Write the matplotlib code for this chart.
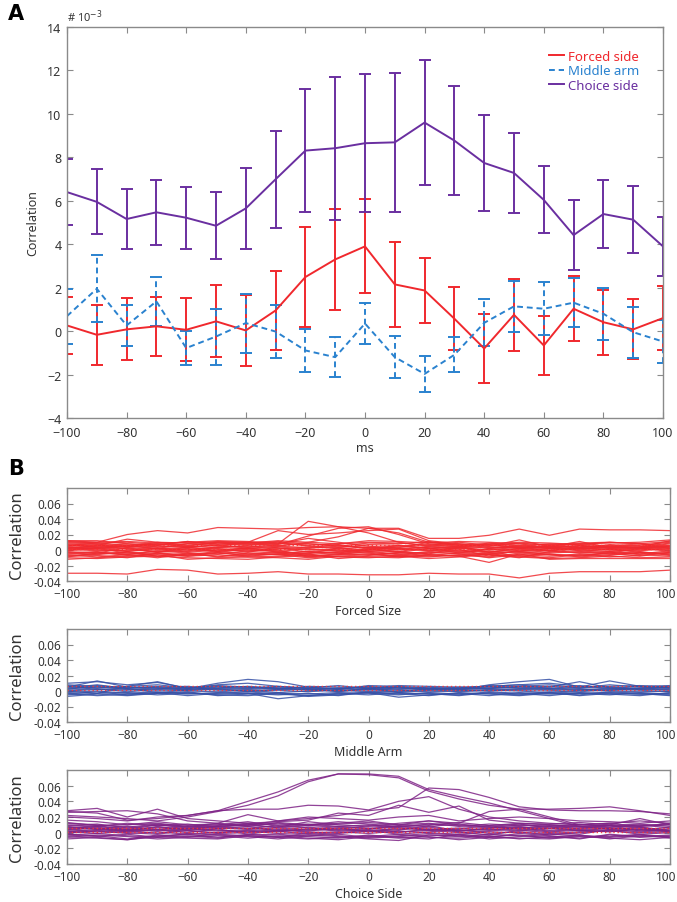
import numpy as np
import matplotlib
matplotlib.use("Agg")
import matplotlib.pyplot as plt
from matplotlib.transforms import ScaledTranslation

plt.rcParams['font.family'] = ['Noto Sans', 'DejaVu Sans']

# ---------------- data ----------------
lags = [-100, -90, -80, -70, -60, -50, -40, -30, -20, -10, 0, 10, 20, 30, 40, 50, 60, 70, 80, 90, 100]

# Panel A (x 10^-3)
forced_mean = [0.26, -0.17, 0.08, 0.22, 0.06, 0.45, 0.03, 0.95, 2.49, 3.3, 3.9, 2.15, 1.87, 0.57, -0.8, 0.75, -0.66, 1.03, 0.41, 0.08, 0.6]
forced_err = [1.32, 1.37, 1.43, 1.36, 1.45, 1.66, 1.64, 1.84, 2.32, 2.32, 2.16, 1.96, 1.49, 1.46, 1.6, 1.67, 1.37, 1.5, 1.5, 1.38, 1.47]
middle_mean = [0.69, 1.95, 0.26, 1.37, -0.78, -0.25, 0.37, -0.02, -0.89, -1.2, 0.35, -1.2, -1.97, -1.09, 0.38, 1.14, 1.03, 1.31, 0.8, -0.05, -0.48]
middle_err = [1.27, 1.54, 0.93, 1.13, 0.78, 1.29, 1.36, 1.21, 0.99, 0.92, 0.96, 0.96, 0.84, 0.81, 1.08, 1.18, 1.22, 1.14, 1.2, 1.17, 1.0]
choice_mean = [6.4, 5.95, 5.16, 5.47, 5.22, 4.85, 5.65, 6.99, 8.31, 8.42, 8.65, 8.69, 9.6, 8.77, 7.74, 7.28, 6.04, 4.42, 5.39, 5.13, 3.9]
choice_err = [1.52, 1.5, 1.4, 1.5, 1.42, 1.55, 1.87, 2.23, 2.83, 3.3, 3.17, 3.21, 2.87, 2.5, 2.23, 1.86, 1.54, 1.61, 1.57, 1.53, 1.35]

# Panel B individual traces (x 10^-3)
forced_traces = [
    [-30, -30, -31, -25, -26, -31, -30, -28, -31, -31, -32, -32, -30, -31, -31, -36, -30, -28, -28, -28, -26],
    [10, 10, 20, 25, 22, 29, 28, 27, 29, 30, 28, 28, 15, 15, 19, 27, 19, 27, 26, 26, 25],
    [12, 12, 8, 6, 8, 10, 10, 8, 37, 30, 22, 10, 5, 3, 0, 4, 2, 6, 3, 4, 12],
    [5, 6, 14, 10, 9, 11, 10, 25, 20, 22, 25, 27, 12, 8, 5, 8, 3, 5, 2, 3, 8],
    [3, 2, 5, 6, 11, 8, 9, 7, 18, 28, 30, 20, 8, 5, -3, 2, 0, 2, 0, 3, 5],
    [8, 6, 4, 8, 4, 6, 8, 5, 10, 17, 28, 22, 10, 6, 2, 5, 4, 8, 5, 2, 4],
    [-12, -10, -8, -6, -12, -10, -9, -10, -12, -8, -9, -10, -6, -8, -16, -5, -12, -11, -11, -11, -11],
    [0, 3, -2, 2, 0, 4, 5, 3, -3, -4, 2, -2, 4, 1, -8, 0, -3, 2, 1, 0, 3],
    [6, 4, 2, -3, -1, 3, 2, 0, -8, -5, 0, 3, 10, 6, 5, 13, 4, 11, 3, 4, 9],
    [-5, -3, -5, -4, -6, -2, -5, -6, -10, -8, -6, -4, -3, -5, -10, -6, -8, -5, -7, -3, -6],
    [2, 5, 8, 4, 5, 3, 6, 8, 15, 10, 5, 2, 0, 3, 4, 2, 6, 3, 5, 8, 2],
    [-3, -6, -2, -8, -4, -5, -2, -4, -2, 0, -3, -6, -2, 0, -4, -2, 0, -4, -2, -5, -1],
    [4, 1, 3, 5, 3, 1, 0, -2, 2, 5, 3, 0, 5, 8, 3, 6, 2, 0, 4, 2, 6],
    [9, 8, 4, 10, 6, 9, 7, 10, 5, 3, 7, 6, 2, 4, 7, 3, 5, 3, 7, 5, 4],
    [-8, -7, -10, -4, -8, -6, -9, -8, -5, -11, -8, -7, -9, -6, -9, -4, -6, -8, -3, -6, -8],
    [1, -1, 0, 2, -3, 0, -1, 1, 4, 2, -2, 1, 0, -3, 1, -1, 2, 0, -2, 1, 0],
    [7, 3, 6, 2, 8, 5, 4, 6, 8, 6, 3, 5, 7, 4, 9, 5, 8, 6, 4, 6, 10],
    [-1, 2, -4, -2, 2, -3, 1, -1, -6, -3, 1, -3, 2, -1, -2, -3, -4, -2, 1, -3, -4],
    [11, 9, 6, 8, 5, 10, 9, 12, 10, 8, 10, 9, 6, 10, 6, 9, 6, 8, 9, 10, 13],
    [-6, -9, -6, -10, -5, -8, -7, -5, -8, -6, -5, -9, -7, -4, -6, -8, -10, -6, -9, -7, -3],
    [3, 0, -1, 0, 1, -1, 3, 2, 0, 1, 4, 2, -1, 2, 0, 1, -1, 3, 0, -1, 2],
    [-9, -4, -6, -1, -4, -9, -4, -6, -4, -2, -4, -8, -4, -2, -6, -10, -2, -3, -5, -2, -7],
    [5, 7, 1, 3, -2, 2, -3, 4, 1, -1, 0, 4, 3, -4, 2, 4, -1, 5, 2, 3, -2],
    [-2, -4, 3, -3, 4, -2, 3, -3, -5, 3, -1, -2, -5, 3, -3, 2, 3, -1, -4, 2, 1],
    [12, 10, 11, 9, 10, 12, 11, 9, 6, 8, 12, 11, 9, 11, 10, 8, 7, 9, 10, 8, 11],
    [-10, -11, -9, -8, -10, -11, -12, -9, -7, -9, -10, -8, -11, -9, -6, -9, -11, -10, -8, -10, -9],
    [6, 9, 10, 7, 11, 6, 9, 11, 8, 5, 9, 8, 11, 7, 8, 10, 9, 7, 10, 8, 5],
    [-4, -2, -7, -5, -8, -4, -6, -3, -9, -6, -2, -5, -8, -7, -4, -7, -5, -9, -6, -4, -5],
    [2, 4, 6, 1, 3, 7, 2, 5, 3, 7, 1, 6, 2, 5, 7, 3, 4, 1, 6, 3, 4],
    [-7, -5, -3, -8, -7, -3, -8, -5, -2, -4, -7, -3, -6, -8, -5, -2, -6, -7, -4, -8, -3],
]

middle_traces = [
    [10, 12, 8, 11, 4, 6, 5, 3, 2, 3, 5, 4, 3, 5, 6, 8, 10, 6, 5, 3, 2],
    [5, 13, 5, 4, 3, 10, 15, 12, 5, 3, 6, 2, 3, 1, 8, 12, 15, 5, 13, 6, 7],
    [0, -3, 6, 12, 3, 8, 10, 6, 3, -1, 4, -2, 1, 2, 4, 6, 5, 12, 4, 2, 5],
    [-5, -3, -2, -5, -3, -4, -3, -10, -6, -4, -2, -8, -5, -3, -6, -2, -4, -3, -5, -2, -4],
    [3, 5, 2, 4, 1, 2, 0, 1, -1, 2, 3, 1, -1, 0, 2, 3, 4, 2, 1, 3, 1],
    [-2, 0, -3, -1, -4, -2, -3, -5, -3, -6, -1, -4, -3, -6, -2, -4, -1, -3, -2, -4, -3],
    [8, 6, 4, 5, 6, 3, 4, 5, 4, 2, 7, 6, 4, 3, 5, 4, 6, 4, 8, 5, 4],
    [-7, -4, -6, -3, -2, -5, -6, -3, -4, -2, -3, -5, -2, -4, -3, -5, -2, -6, -3, -4, -5],
    [1, 3, -1, 2, 0, -1, 1, -2, 0, 1, -1, 0, 2, -1, 1, 0, -2, 1, 0, -1, 0],
    [6, 2, 1, 3, 5, 1, 2, 3, 2, 4, 1, 3, 5, 2, 3, 1, 2, 3, 1, 4, 6],
    [-3, -6, -4, -2, -6, -3, -1, -4, -6, -3, -5, -2, -4, -5, -1, -3, -6, -2, -4, -6, -2],
    [4, 8, 3, 1, 2, 4, 6, 4, 1, 0, 2, 5, 2, 3, 7, 4, 3, 1, 4, 2, 3],
    [2, 7, 4, 6, 2, 5, 3, 6, 4, 7, 3, 5, 1, 4, 6, 8, 3, 7, 3, 6, 4],
    [-4, -1, -5, -3, -1, -6, -4, -2, -7, -5, -2, -3, -6, -2, -4, -6, -3, -5, -1, -3, -6],
    [0, 2, 3, -2, 1, 3, -1, 2, 3, 0, 2, -1, 3, 1, 0, 2, 1, -1, 2, 1, -1],
    [7, 4, 6, 8, 4, 7, 5, 2, 6, 5, 4, 7, 6, 5, 3, 6, 8, 4, 6, 7, 5],
]

choice_traces = [
    [22, 20, 18, 15, 20, 27, 35, 47, 65, 75, 75, 72, 55, 46, 38, 28, 18, 8, 5, 4, 2],
    [27, 25, 16, 18, 22, 28, 40, 52, 67, 75, 74, 70, 53, 43, 35, 30, 20, 10, 9, 7, 3],
    [5, 8, 4, 10, 6, 8, 10, 15, 18, 22, 28, 32, 57, 55, 45, 33, 29, 28, 28, 27, 24],
    [20, 18, 15, 20, 22, 28, 30, 30, 35, 34, 29, 40, 46, 30, 20, 15, 12, 10, 12, 15, 12],
    [28, 31, 20, 30, 18, 15, 12, 14, 16, 25, 22, 35, 26, 34, 16, 12, 10, 8, 10, 18, 10],
    [16, 14, 10, 12, 8, 10, 14, 8, 10, 12, 15, 10, 15, 12, 27, 30, 30, 31, 33, 28, 22],
    [26, 27, 28, 24, 15, 12, 23, 15, 20, 18, 16, 20, 22, 15, 18, 20, 18, 15, 14, 12, 15],
    [8, 5, 3, 6, 4, 7, 5, 9, 6, 3, 5, 8, 4, 6, 3, 7, 5, 8, 4, 6, 3],
    [-2, -4, -8, -3, -5, -2, -4, -6, -3, -5, -8, -10, -3, -5, -2, -4, -6, -3, -8, -4, -5],
    [3, 6, 1, 4, 2, 0, 3, 1, 5, 2, 4, 1, 3, 0, 2, 5, 1, 3, 2, 4, 1],
    [-5, -7, -9, -4, -2, -6, -3, -2, -5, -7, -3, -6, -8, -2, -5, -3, -7, -4, -5, -2, -6],
    [10, 8, 12, 9, 11, 7, 10, 12, 9, 11, 13, 10, 12, 8, 11, 9, 10, 7, 9, 11, 8],
    [0, 2, -1, 1, -2, 0, 2, -1, 0, 1, -1, 2, 0, -2, 1, 0, -1, 1, 2, 0, 1],
    [6, 9, 4, 7, 5, 8, 11, 6, 9, 7, 5, 9, 8, 11, 7, 6, 9, 5, 7, 10, 6],
    [-3, -1, -4, -6, -1, -3, -5, -8, -4, -2, -6, -4, -1, -3, -8, -5, -2, -4, -6, -3, -7],
    [4, 1, 5, 2, 6, 3, 1, 4, 2, 6, 1, 4, 7, 3, 5, 2, 6, 3, 1, 5, 2],
    [-1, 3, 0, -2, 3, -1, 0, 2, -2, 0, 3, -2, 1, 4, -1, 1, -3, 0, 3, -2, 0],
    [12, 10, 7, 11, 8, 12, 9, 7, 14, 10, 8, 12, 15, 10, 8, 11, 6, 10, 12, 8, 10],
    [-6, -3, -5, -8, -6, -4, -7, -4, -7, -9, -5, -2, -6, -7, -4, -8, -5, -7, -3, -6, -4],
    [2, -1, 2, 4, 0, 5, -2, 3, 1, -1, 2, 0, 5, 1, -3, 3, 0, -2, 4, 1, 3],
    [7, 4, 8, 3, 9, 5, 6, 3, 7, 4, 9, 6, 3, 5, 9, 4, 8, 2, 6, 3, 7],
    [9, 11, 6, 10, 7, 9, 12, 10, 11, 8, 10, 7, 11, 9, 6, 10, 8, 11, 7, 9, 11],
    [-8, -6, -9, -5, -7, -8, -4, -6, -8, -6, -4, -7, -5, -9, -6, -7, -8, -5, -7, -9, -6],
    [4, 7, 2, 8, 3, 5, 8, 2, 4, 8, 6, 3, 9, 2, 6, 8, 3, 6, 9, 2, 5],
    [-3, -5, -2, -6, -4, -7, -2, -5, -1, -4, -7, -5, -3, -4, -6, -1, -4, -8, -2, -5, -3],
    [1, 4, 3, -1, 5, 2, 4, 6, 3, 5, 2, 6, 4, 2, 4, 6, 2, 4, 5, 7, 2],
    [13, 9, 10, 14, 10, 11, 8, 13, 10, 14, 11, 8, 10, 13, 9, 12, 11, 13, 10, 8, 12],
]

threshold_levels = [6.5, 1.0]  # x 10^-3, dotted reference lines

legend_labels = ['Forced side', 'Middle arm', 'Choice side']
b_xlabels = ['Forced Size', 'Middle Arm', 'Choice Side']

# ---------------- styles ----------------
RED = '#f0282d'
BLUE = '#2a82cf'
PURPLE = '#6a2fa0'
B_COLORS = ['#ef2a2f', '#3550a6', '#7e2386']
FRAME = '#8a8a8a'
TXT = '#333333'

fig = plt.figure(figsize=(6.77, 9.03), dpi=100)


def style_axes(ax, labelsize):
    for s in ax.spines.values():
        s.set_color(FRAME)
        s.set_linewidth(1.0)
    ax.tick_params(direction='in', top=True, right=True, length=4, width=0.8,
                   color=FRAME, labelsize=labelsize, labelcolor=TXT)
    ax.tick_params(axis='x', pad=6)
    ax.tick_params(axis='y', pad=4)


def nudge_last_xlabel(ax):
    fig.canvas.draw()
    labs = ax.get_xticklabels()
    labs[-1].set_transform(labs[-1].get_transform() +
                           ScaledTranslation(-4 / 100, 0, fig.dpi_scale_trans))


# ---------------- Panel A ----------------
axA = fig.add_axes([67 / 677, 1 - 419 / 903, 596 / 677, 391 / 903])
x = np.array(lags)

series = [
    (forced_mean, forced_err, RED, '-'),
    (middle_mean, middle_err, BLUE, '--'),
    (choice_mean, choice_err, PURPLE, '-'),
]
handles = []
for (m, e, c, ls), lab in zip(series, legend_labels):
    cont = axA.errorbar(x, m, yerr=e, color=c, linestyle=ls, linewidth=1.4,
                        elinewidth=1.4, capsize=4, capthick=1.4, label=lab)
    if ls == '--':
        cont[0].set_dashes([3, 2])
        for bl in cont[2]:
            bl.set_linestyle((0, (3, 2)))
    handles.append(cont[0])

axA.set_xlim(-100, 100)
axA.set_ylim(-4, 14)
axA.set_xticks(range(-100, 101, 20))
axA.set_yticks(range(-4, 15, 2))
style_axes(axA, 9)
axA.set_xlabel('ms', fontsize=9, color=TXT, labelpad=1)
axA.set_ylabel('Correlation', fontsize=9, color=TXT, labelpad=6)

leg = axA.legend(handles=handles, labels=legend_labels, loc='upper left',
                 bbox_to_anchor=(0.80, 0.955), frameon=False, fontsize=9.5,
                 handlelength=1.1, handletextpad=0.3, labelspacing=0.12,
                 borderaxespad=0)
for t, (_, _, c, _) in zip(leg.get_texts(), series):
    t.set_color(c)

fig.text(67 / 677, 1 - 22 / 903, '# 10$^{-3}$', fontsize=8, color=TXT,
         ha='left', va='baseline')
fig.text(8 / 677, 1 - 20 / 903, 'A', fontsize=15, fontweight='bold',
         ha='left', va='baseline', family='DejaVu Sans')
fig.text(8 / 677, 1 - 475 / 903, 'B', fontsize=15, fontweight='bold',
         ha='left', va='baseline', family='DejaVu Sans')

# ---------------- Panel B ----------------
b_rects = [
    (1 - 582 / 903, 93 / 903),
    (1 - 723 / 903, 93 / 903),
    (1 - 865 / 903, 94 / 903),
]
traces_all = [forced_traces, middle_traces, choice_traces]
b_axes = []
for (bot, h), traces, col, xl in zip(b_rects, traces_all, B_COLORS, b_xlabels):
    ax = fig.add_axes([67 / 677, bot, 603 / 677, h])
    for tr in traces:
        ax.plot(x, np.array(tr) / 1000.0, color=col, linewidth=0.9, alpha=0.85)
    for lv in threshold_levels:
        ax.plot([x[0], x[-1]], [lv / 1000.0, lv / 1000.0], color='#ff3030',
                linestyle=(0, (1, 2)), linewidth=1.0, alpha=0.9)
    ax.set_xlim(-100, 100)
    ax.set_ylim(-0.04, 0.08)
    ax.set_xticks(range(-100, 101, 20))
    ax.set_yticks([-0.04, -0.02, 0, 0.02, 0.04, 0.06])
    ax.set_yticklabels(['-0.04', '-0.02', '0', '0.02', '0.04', '0.06'])
    style_axes(ax, 8.5)
    ax.tick_params(axis='x', pad=4)
    ax.set_xlabel(xl, fontsize=9, color=TXT, labelpad=3)
    ax.set_ylabel('Correlation', fontsize=12, color=TXT, labelpad=6)
    b_axes.append(ax)

for ax in b_axes:
    nudge_last_xlabel(ax)

fig.savefig('out.png', dpi=100)
